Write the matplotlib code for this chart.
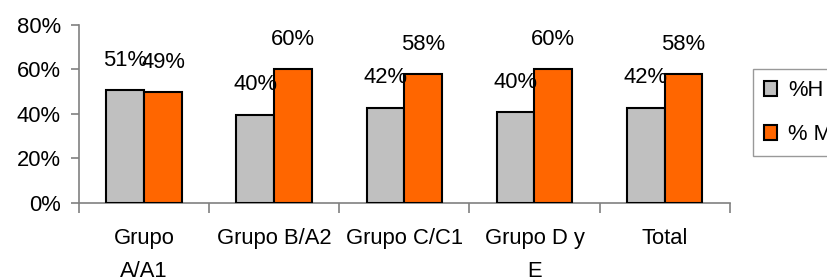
import numpy as np
import matplotlib
matplotlib.use("Agg")
import matplotlib.pyplot as plt
from matplotlib.ticker import FixedLocator, PercentFormatter

# --- Data ---
categories = ["Grupo\nA/A1", "Grupo B/A2", "Grupo C/C1", "Grupo D y\nE", "Total"]
pct_h = [0.506, 0.395, 0.427, 0.406, 0.427]
pct_m = [0.496, 0.599, 0.578, 0.600, 0.578]
labels_h = ["51%", "40%", "42%", "40%", "42%"]
labels_m = ["49%", "60%", "58%", "60%", "58%"]
series_names = ["%H", "% M"]

# --- Style ---
plt.rcParams['font.family'] = ['Liberation Sans', 'DejaVu Sans']
FS = 15.8
GRAY = '#C0C0C0'
ORANGE = '#FF6600'
AXIS_COLOR = '#808080'

fig = plt.figure(figsize=(8.27, 2.78), dpi=100)
ax = fig.add_axes([79 / 827, 1 - 202.7 / 278, (729.7 - 79) / 827, (202.7 - 24.7) / 278])

x = np.arange(len(categories))
w = 0.29
bars_h = ax.bar(x - w / 2, pct_h, w, color=GRAY, edgecolor='black', linewidth=1.5,
                label=series_names[0], zorder=3)
bars_m = ax.bar(x + w / 2, pct_m, w, color=ORANGE, edgecolor='black', linewidth=1.5,
                label=series_names[1], zorder=3)

# value labels above bars
for bars, labs in ((bars_h, labels_h), (bars_m, labels_m)):
    for b, lab in zip(bars, labs):
        ax.annotate(lab, (b.get_x() + b.get_width() / 2, b.get_height()),
                    xytext=(0, 30), textcoords='offset pixels',
                    ha='center', va='center', fontsize=FS, zorder=4)

ax.set_xlim(-0.5, len(categories) - 0.5)
ax.set_ylim(0, 0.8)
ax.yaxis.set_major_locator(FixedLocator([0, 0.2, 0.4, 0.6, 0.8]))
ax.yaxis.set_major_formatter(PercentFormatter(1.0, decimals=0))

ax.set_xticks(x)
ax.set_xticklabels(categories, fontsize=FS, linespacing=1.75)
ax.set_xticks(np.arange(-0.5, len(categories)), minor=True)
ax.tick_params(axis='x', which='major', length=0, pad=18)
ax.tick_params(axis='x', which='minor', length=7, width=1.2, color=AXIS_COLOR)
ax.tick_params(axis='y', length=6, width=1.2, color=AXIS_COLOR, labelsize=FS, pad=7)

for s in ['top', 'right']:
    ax.spines[s].set_visible(False)
for s in ['left', 'bottom']:
    ax.spines[s].set_color(AXIS_COLOR)
    ax.spines[s].set_linewidth(1.2)

leg = fig.legend(handles=[bars_h, bars_m], labels=series_names,
                 loc='upper left', bbox_to_anchor=(752.7 / 827, 1 - 69.3 / 278),
                 fontsize=FS, frameon=True, fancybox=False, edgecolor=AXIS_COLOR,
                 handlelength=0.62, handleheight=0.62, handletextpad=0.5,
                 labelspacing=1.05, borderpad=0.5, borderaxespad=0)
leg.get_frame().set_linewidth(1.0)

fig.savefig("out.png", dpi=100)
